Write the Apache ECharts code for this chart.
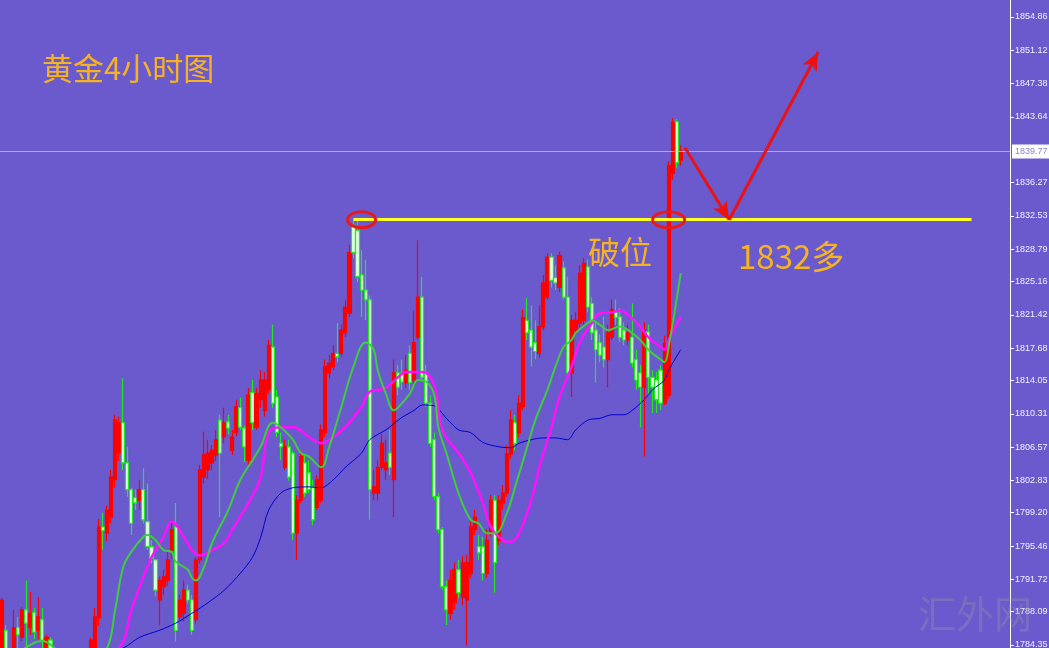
<!DOCTYPE html>
<html>
<head>
<meta charset="utf-8">
<script src="https://cdn.jsdelivr.net/npm/echarts@6/dist/echarts.min.js"></script>
<style>
html, body { margin: 0; padding: 0; background: #6a5acd; }
#main { width: 1049px; height: 648px; }
</style>
</head>
<body>
<div id="main"></div>
<script>
// 4h gold candles (index 0 = leftmost bar)
const opens = [
  1782.0,1786.0,1782.5,1784.0,1786.3,1785.2,1788.3,1786.3,1788.0,1786.0,
  1787.2,1783.9,1784.9,1783.0,1781.0,1779.5,1780.5,1778.0,1779.0,1777.5,
  1779.2,1781.0,1782.0,1784.0,1787.4,1797.6,1796.9,1798.7,1802.9,1805.9,
  1809.3,1804.8,1801.8,1800.9,1800.6,1801.8,1798.2,1795.4,1793.9,1789.4,
  1790.9,1791.6,1795.0,1797.6,1787.5,1787.9,1790.5,1789.4,1787.2,1793.9,
  1803.2,1804.0,1804.8,1805.7,1809.6,1807.7,1809.4,1806.2,1808.2,1811.0,
  1808.7,1805.1,1812.7,1808.8,1811.9,1810.7,1813.0,1817.8,1812.2,1807.0,
  1804.3,1806.6,1805.9,1796.9,1800.6,1804.8,1803.7,1802.1,1799.8,1800.6,
  1808.2,1814.9,1815.6,1817.1,1817.1,1819.4,1821.6,1831.5,1830.9,1825.9,
  1824.2,1823.1,1801.4,1801.4,1804.3,1804.0,1805.9,1802.9,1814.9,1814.9,
  1813.8,1817.1,1814.1,1818.9,1823.4,1814.9,1811.5,1807.4,1801.0,1797.3,
  1790.9,1787.9,1789.1,1792.8,1789.7,1789.4,1792.4,1797.3,1795.4,1795.4,
  1792.4,1796.9,1800.6,1796.1,1800.3,1801.4,1805.8,1809.3,1808.2,1811.1,
  1820.8,1819.7,1818.3,1817.1,1820.1,1823.4,1827.9,1825.6,1824.5,1826.7,
  1823.4,1814.9,1819.7,1820.5,1820.8,1826.8,1822.7,1819.7,1818.3,1817.8,
  1816.4,1818.9,1821.7,1821.2,1819.7,1818.6,1818.9,1816.4,1814.9,1813.3,
  1819.5,1814.4,1814.1,1815.2,1811.5,1812.4,1837.3,1843.1,1838.8
];
const closes = [
  1789.4,1783.5,1783.6,1786.3,1785.5,1788.3,1786.8,1787.9,1785.8,1787.5,
  1784.9,1785.2,1783.0,1781.0,1779.5,1780.5,1778.0,1779.0,1777.5,1779.2,
  1781.0,1782.8,1784.9,1787.5,1797.6,1797.2,1799.5,1803.2,1809.6,1809.3,
  1804.8,1801.8,1798.0,1800.3,1801.8,1798.4,1795.4,1794.1,1790.5,1791.6,
  1792.0,1793.9,1797.3,1786.0,1789.4,1790.5,1789.4,1786.0,1793.9,1804.0,
  1805.7,1805.9,1806.2,1807.4,1805.9,1809.3,1808.7,1807.7,1811.1,1808.8,
  1806.6,1812.4,1809.3,1812.6,1814.1,1814.1,1818.0,1811.5,1808.2,1806.6,
  1806.6,1803.2,1796.9,1800.6,1805.5,1801.4,1801.8,1798.4,1802.9,1808.5,
  1815.6,1816.0,1817.1,1816.7,1819.7,1822.3,1828.4,1828.4,1825.7,1824.2,
  1823.1,1801.8,1802.1,1804.3,1807.0,1804.8,1804.3,1814.9,1813.3,1813.9,
  1815.2,1813.8,1818.3,1823.4,1814.4,1811.5,1807.0,1801.0,1797.3,1790.9,
  1788.3,1791.6,1792.8,1790.2,1793.6,1793.6,1797.6,1798.7,1794.7,1792.4,
  1796.1,1800.6,1793.6,1800.6,1801.4,1805.8,1809.6,1807.0,1811.5,1821.1,
  1819.4,1817.8,1817.3,1820.1,1825.0,1827.9,1825.3,1825.0,1828.1,1823.4,
  1814.9,1820.8,1820.8,1826.1,1827.2,1822.3,1819.4,1817.5,1816.9,1816.4,
  1819.4,1822.0,1821.1,1818.9,1818.6,1819.4,1816.0,1814.1,1813.3,1819.7,
  1814.4,1813.3,1811.9,1811.5,1818.2,1838.2,1843.0,1838.5,1839.8
];
const lows = [
  1781.0,1782.0,1781.5,1783.0,1783.0,1784.8,1783.5,1785.5,1785.0,1785.0,
  1784.0,1783.0,1782.0,1780.5,1778.8,1779.0,1777.2,1777.5,1776.8,1777.0,
  1778.8,1780.5,1781.0,1783.5,1786.5,1795.0,1796.0,1798.0,1802.0,1805.0,
  1804.0,1801.0,1796.7,1799.5,1799.5,1798.0,1795.0,1793.5,1789.8,1786.6,
  1790.0,1791.0,1794.0,1784.7,1787.2,1787.0,1789.0,1785.5,1786.8,1793.5,
  1802.5,1803.0,1804.0,1805.0,1798.7,1807.0,1808.0,1805.7,1807.8,1808.5,
  1804.9,1804.5,1808.5,1808.5,1811.0,1810.0,1812.5,1811.0,1807.7,1805.1,
  1804.0,1802.8,1796.1,1793.9,1800.3,1801.0,1801.4,1797.8,1799.5,1800.3,
  1807.7,1814.3,1815.2,1816.1,1816.7,1818.9,1821.2,1827.8,1825.1,1821.2,
  1820.8,1798.4,1800.6,1800.6,1804.0,1802.9,1803.4,1798.7,1812.4,1813.0,
  1813.2,1813.0,1813.5,1818.6,1814.1,1811.1,1806.6,1800.6,1796.9,1790.5,
  1786.6,1787.2,1788.3,1789.6,1788.8,1784.3,1791.9,1796.7,1793.9,1791.6,
  1791.9,1796.5,1790.2,1795.6,1799.5,1801.0,1805.3,1806.2,1807.7,1810.7,
  1818.6,1815.6,1816.4,1816.6,1819.7,1823.1,1824.5,1824.2,1824.0,1823.1,
  1814.3,1812.2,1819.2,1820.0,1820.3,1821.7,1818.6,1813.8,1816.1,1815.5,
  1813.3,1818.6,1820.3,1818.4,1818.0,1818.0,1815.5,1813.0,1808.8,1805.5,
  1812.4,1810.4,1810.4,1810.7,1811.3,1812.0,1836.6,1837.9,1838.2
];
const highs = [
  1789.6,1786.6,1783.8,1788.3,1787.5,1788.6,1791.6,1790.3,1788.5,1789.7,
  1788.5,1785.5,1785.2,1783.5,1781.8,1781.5,1781.0,1779.8,1779.5,1779.8,
  1781.5,1783.2,1785.2,1788.5,1798.5,1799.2,1800.0,1804.0,1810.2,1810.0,
  1814.3,1806.6,1802.0,1801.8,1802.9,1804.2,1802.5,1796.1,1794.0,1792.0,
  1792.8,1795.0,1798.4,1800.3,1790.0,1791.6,1791.1,1790.0,1794.2,1804.6,
  1808.3,1807.4,1806.8,1808.5,1810.2,1811.0,1810.2,1808.5,1811.9,1812.1,
  1809.0,1813.2,1814.1,1813.2,1815.2,1815.0,1818.6,1820.3,1813.0,1808.2,
  1807.4,1807.4,1806.2,1801.2,1806.2,1805.7,1805.1,1802.9,1803.4,1809.1,
  1816.4,1816.9,1818.0,1820.5,1820.3,1823.1,1829.3,1832.1,1832.1,1828.7,
  1827.6,1823.6,1804.0,1805.1,1808.0,1807.4,1808.5,1816.4,1815.8,1816.4,
  1816.9,1818.0,1821.9,1829.8,1825.7,1815.8,1812.4,1808.2,1801.4,1797.6,
  1791.6,1792.8,1793.6,1793.9,1794.3,1794.5,1798.4,1799.5,1796.7,1796.5,
  1797.3,1801.2,1801.2,1801.2,1802.3,1806.8,1810.7,1810.2,1812.4,1822.0,
  1823.3,1822.5,1820.8,1822.5,1825.9,1828.3,1828.3,1827.0,1828.5,1827.4,
  1825.7,1821.4,1821.7,1827.0,1827.8,1827.6,1823.4,1820.6,1819.2,1821.2,
  1820.3,1823.1,1823.1,1822.2,1820.6,1820.3,1822.7,1817.5,1815.8,1820.6,
  1820.3,1815.2,1815.0,1815.8,1819.1,1838.7,1843.5,1843.4,1840.5
];

// moving averages as [bar index, price]
const maGreen = [[0,1782.5],[4,1783.5],[8,1784.6],[10,1784.8],[13,1784.0],[17,1782.0],[22,1782.5],[26,1784.0],[28,1788.3],[30,1793.1],[32,1794.8],[35,1796.5],[36,1796.7],[38,1796.1],[40,1795.0],[42,1794.8],[43,1793.7],[46,1792.8],[47,1791.9],[48,1791.6],[50,1793.1],[52,1795.8],[56,1799.5],[59,1802.9],[62,1805.1],[64,1806.6],[67,1809.3],[69,1808.8],[72,1807.4],[74,1805.9],[76,1805.5],[79,1804.3],[81,1806.6],[84,1811.1],[87,1815.6],[90,1818.3],[92,1817.5],[93,1815.2],[95,1812.6],[97,1810.7],[99,1811.5],[101,1812.6],[103,1814.1],[105,1813.9],[107,1812.4],[108,1808.8],[110,1805.9],[113,1801.4],[116,1798.4],[118,1798.0],[120,1796.9],[122,1796.9],[125,1799.2],[127,1802.1],[130,1806.6],[132,1809.6],[135,1813.0],[137,1815.6],[139,1817.8],[141,1818.6],[142,1819.4],[145,1820.5],[146,1820.8],[148,1820.3],[150,1819.7],[153,1820.1],[155,1819.7],[158,1818.6],[160,1817.5],[163,1816.4],[164,1816.1],[165,1817.8],[168,1826.1]];
const maPink = [[0,1781.0],[20,1781.5],[29,1784.0],[32,1788.3],[35,1792.0],[37,1794.2],[40,1796.5],[42,1798.2],[45,1796.5],[47,1795.0],[49,1794.4],[52,1795.0],[55,1795.8],[57,1797.3],[61,1800.3],[64,1803.2],[66,1808.2],[69,1808.8],[72,1808.8],[76,1807.7],[79,1807.0],[82,1807.7],[85,1808.8],[89,1811.1],[91,1812.8],[93,1813.0],[95,1813.2],[98,1814.4],[100,1815.0],[104,1815.0],[107,1813.5],[109,1808.5],[113,1805.9],[116,1803.7],[119,1800.3],[121,1797.6],[124,1796.1],[126,1795.9],[128,1796.9],[131,1800.6],[133,1804.3],[136,1808.8],[138,1812.2],[141,1815.6],[143,1818.3],[146,1820.5],[148,1821.6],[151,1821.7],[153,1821.9],[155,1821.4],[158,1820.1],[160,1818.9],[163,1817.8],[164,1817.5],[165,1818.6],[168,1821.2]];
const maBlue = [[0,1779.0],[22,1782.8],[30,1784.0],[34,1785.2],[39,1786.0],[43,1786.8],[47,1787.9],[51,1789.1],[55,1790.5],[59,1792.4],[62,1794.2],[64,1796.4],[66,1799.5],[69,1801.4],[72,1802.0],[76,1802.1],[79,1802.0],[82,1802.9],[85,1804.3],[89,1805.9],[91,1807.4],[95,1808.5],[99,1809.9],[102,1810.7],[104,1811.3],[107,1811.2],[110,1809.8],[113,1808.5],[116,1808.2],[119,1807.1],[123,1806.6],[126,1806.5],[128,1807.0],[131,1807.4],[134,1807.6],[137,1807.6],[140,1807.4],[142,1808.5],[145,1809.6],[148,1809.8],[151,1810.2],[154,1810.2],[156,1810.7],[159,1811.9],[161,1813.0],[164,1814.1],[165,1815.2],[168,1817.5]];

// price scale labels as printed on the right
const tickValues = [1854.86,1851.12,1847.38,1843.64,1836.27,1832.53,1828.79,1825.16,1821.42,1817.68,1814.05,1810.31,1806.57,1802.83,1799.20,1795.46,1791.72,1788.09,1784.35];
const lastPrice = 1839.77;
const breakLevel = 1832.1;
const Y_MIN = 1784.01, Y_MAX = 1856.77;
const SLOTS = 250;

const cats = [];
for (let i = 0; i < SLOTS; i++) cats.push('b' + i);

const candles = opens.map((o, i) => [o, closes[i], lows[i], highs[i]]);

const chart = echarts.init(document.getElementById('main'));

const option = {
  animation: false,
  backgroundColor: '#6a5acd',
  grid: { left: 0, right: 39, top: 0, bottom: 0, outerBoundsMode: 'none' },
  xAxis: { type: 'category', data: cats, boundaryGap: true, show: false },
  yAxis: {
    type: 'value',
    position: 'right',
    min: Y_MIN,
    max: Y_MAX,
    splitLine: { show: false },
    axisLine: { show: true, lineStyle: { color: '#ffffff', width: 1 } },
    axisTick: { show: true, customValues: tickValues, length: 4, lineStyle: { color: '#ffffff' } },
    axisLabel: {
      customValues: tickValues,
      formatter: v => v.toFixed(2),
      color: '#f2f0ff',
      fontSize: 9,
      fontFamily: 'Liberation Sans',
      margin: 5
    }
  },
  series: [
    {
      type: 'candlestick',
      data: candles,
      barWidth: 3.6,
      clip: true,
      silent: true,
      itemStyle: {
        color: '#ff0000',
        borderColor: '#ff0000',
        color0: '#e4ffe4',
        borderColor0: '#22e822',
        borderWidth: 1.2
      }
    },
    {
      type: 'line', data: maBlue, smooth: 0.3, showSymbol: false, silent: true,
      lineStyle: { color: '#0000d0', width: 1 }
    },
    {
      type: 'line', data: maPink, smooth: 0.4, showSymbol: false, silent: true,
      lineStyle: { color: '#ff10ff', width: 2.5 }
    },
    {
      type: 'line', data: maGreen, smooth: 0.4, showSymbol: false, silent: true,
      lineStyle: { color: '#3ccf3c', width: 2 }
    },
    {
      // annotations drawn on top
      type: 'line',
      data: [],
      markLine: {
        silent: true,
        symbol: 'none',
        label: { show: false },
        data: [
          {
            yAxis: lastPrice,
            lineStyle: { color: 'rgba(200,200,220,0.75)', width: 1, type: 'solid' },
            label: {
              show: true, position: 'end', distance: 2,
              formatter: '1839.77', backgroundColor: '#ffffff', color: '#8a80d0',
              fontSize: 9, fontFamily: 'Liberation Sans', padding: [3, 3, 2, 3]
            }
          },
          [
            { coord: [87, breakLevel], lineStyle: { color: '#ffff22', width: 3, type: 'solid' } },
            { coord: [240, breakLevel] }
          ],
          [
            { coord: [169, 1840.2], symbol: 'none', lineStyle: { color: '#ee1111', width: 3, type: 'solid' } },
            { coord: [180, breakLevel], symbol: 'arrow', symbolSize: [12, 18] }
          ],
          [
            { coord: [180, breakLevel], symbol: 'none', lineStyle: { color: '#ee1111', width: 3, type: 'solid' } },
            { coord: [202, 1850.9], symbol: 'arrow', symbolSize: [12, 18] }
          ]
        ]
      }
    }
  ]
};

chart.setOption(option);

const e1 = chart.convertToPixel({ gridIndex: 0 }, [89, breakLevel]);
const e2 = chart.convertToPixel({ gridIndex: 0 }, [165, breakLevel]);
const cjk = '"Noto Sans CJK SC", "Noto Sans", sans-serif';

chart.setOption({
  graphic: [
    { type: 'ellipse', shape: { cx: e1[0], cy: e1[1], rx: 14, ry: 8 }, style: { fill: 'none', stroke: '#e8191e', lineWidth: 3 }, z: 100 },
    { type: 'ellipse', shape: { cx: e2[0], cy: e2[1], rx: 16, ry: 8 }, style: { fill: 'none', stroke: '#e8191e', lineWidth: 3 }, z: 100 },
    { type: 'text', x: 42, y: 68, style: { text: '黄金4小时图', fill: '#f5b221', fontSize: 31, fontFamily: cjk, verticalAlign: 'middle' }, z: 100 },
    { type: 'text', x: 588, y: 252, style: { text: '破位', fill: '#f5b221', fontSize: 32, fontFamily: cjk, verticalAlign: 'middle' }, z: 100 },
    { type: 'text', x: 738, y: 256, style: { text: '1832多', fill: '#f5b221', fontSize: 33, fontFamily: cjk, verticalAlign: 'middle' }, z: 100 },
    { type: 'text', x: 918, y: 614, style: { text: '汇外网', fill: 'rgba(150,150,165,0.35)', fontSize: 38, fontFamily: cjk, verticalAlign: 'middle' }, z: 100 }
  ]
});
</script>
</body>
</html>
